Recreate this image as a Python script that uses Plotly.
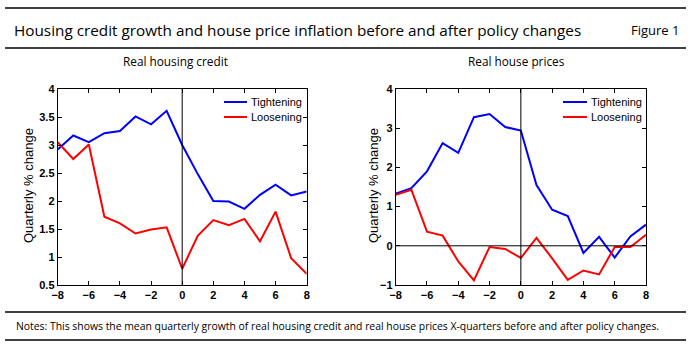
import plotly.graph_objects as go

W, H = 691, 349
quarters = list(range(-8, 9))
credit_tight = [2.92, 3.17, 3.05, 3.21, 3.25, 3.51, 3.37, 3.61, 3.0, 2.48, 2.0, 1.99, 1.86, 2.11, 2.29, 2.1, 2.17]
credit_loose = [3.05, 2.75, 3.01, 1.72, 1.6, 1.42, 1.49, 1.53, 0.79, 1.38, 1.66, 1.57, 1.68, 1.28, 1.81, 0.98, 0.7]
price_tight = [1.33, 1.47, 1.9, 2.62, 2.37, 3.28, 3.36, 3.03, 2.94, 1.55, 0.92, 0.76, -0.18, 0.23, -0.3, 0.24, 0.54]
price_loose = [1.3, 1.43, 0.36, 0.26, -0.4, -0.88, -0.03, -0.08, -0.31, 0.2, -0.32, -0.87, -0.63, -0.73, -0.03, -0.03, 0.28]
credit_ticks = [0.5, 1, 1.5, 2, 2.5, 3, 3.5, 4]
credit_ticklabels = ["0.5", "1", "1.5", "2", "2.5", "3", "3.5", "4"]
price_ticks = [-1, 0, 1, 2, 3, 4]
x_ticks = [-8, -6, -4, -2, 0, 2, 4, 6, 8]

BLUE = "#0000ff"
RED = "#ff0000"

def px(x):
    return x / W

def py(y):
    return 1 - y / H

fig = go.Figure()
fig.add_trace(go.Scatter(x=quarters, y=credit_tight, mode="lines", line=dict(color=BLUE, width=2),
                         xaxis="x", yaxis="y", showlegend=False))
fig.add_trace(go.Scatter(x=quarters, y=credit_loose, mode="lines", line=dict(color=RED, width=2),
                         xaxis="x", yaxis="y", showlegend=False))
fig.add_trace(go.Scatter(x=quarters, y=price_tight, mode="lines", line=dict(color=BLUE, width=2),
                         xaxis="x2", yaxis="y2", showlegend=False))
fig.add_trace(go.Scatter(x=quarters, y=price_loose, mode="lines", line=dict(color=RED, width=2),
                         xaxis="x2", yaxis="y2", showlegend=False))

tickfont = dict(family="Liberation Sans, Arial", size=11, color="black", weight="bold")
axis_common = dict(showgrid=False, zeroline=False, showline=True, linecolor="black", linewidth=1,
                   mirror="allticks", ticks="inside", ticklen=4, tickcolor="black", tickfont=tickfont,
                   automargin=False)

ydom = [py(285), py(89)]
fig.update_layout(
    width=W, height=H, margin=dict(l=0, r=0, t=0, b=0, pad=0), autosize=False,
    plot_bgcolor="white", paper_bgcolor="white",
    xaxis=dict(domain=[px(57.7), px(306.7)], range=[-8, 8], tickvals=x_ticks, anchor="y", **axis_common),
    yaxis=dict(domain=ydom, range=[0.5, 4], tickvals=credit_ticks, ticktext=credit_ticklabels, anchor="x",
               **axis_common),
    xaxis2=dict(domain=[px(395.7), px(646)], range=[-8, 8], tickvals=x_ticks, anchor="y2", **axis_common),
    yaxis2=dict(domain=ydom, range=[-1, 4], tickvals=price_ticks, anchor="x2", **axis_common),
    showlegend=False,
)

shapes = []
# zero reference lines
shapes.append(dict(type="line", xref="x", yref="y", x0=0, x1=0, y0=0.5, y1=4, line=dict(color="black", width=1)))
shapes.append(dict(type="line", xref="x2", yref="y2", x0=0, x1=0, y0=-1, y1=4, line=dict(color="black", width=1)))
shapes.append(dict(type="line", xref="x2", yref="y2", x0=-8, x1=8, y0=0, y1=0, line=dict(color="black", width=1)))
# horizontal rules
for yy in [8, 48, 312, 340]:
    shapes.append(dict(type="line", xref="paper", yref="paper", x0=px(5), x1=px(686), y0=py(yy), y1=py(yy),
                       line=dict(color="black", width=1.5)))
# legend lines
for (x0, x1, y, c) in [(224, 247, 102, BLUE), (224, 247, 117, RED), (563, 587, 102, BLUE), (563, 587, 117, RED)]:
    shapes.append(dict(type="line", xref="paper", yref="paper", x0=px(x0), x1=px(x1), y0=py(y), y1=py(y),
                       line=dict(color=c, width=2)))
fig.update_layout(shapes=shapes)

def text(t, x, y, xanchor, size, family="Open Sans", angle=0):
    return dict(text=t, xref="paper", yref="paper", x=px(x), y=py(y), xanchor=xanchor, yanchor="middle",
                showarrow=False, textangle=angle, font=dict(family=family, size=size, color="black"))

ann = [
    text("Housing credit growth and house price inflation before and after policy changes", 12, 30, "left", 15.3),
    text("Figure 1", 681, 30, "right", 13),
    text("Real housing credit", 176, 61, "center", 11.8),
    text("Real house prices", 516, 61, "center", 11.8),
    text("Notes: This shows the mean quarterly growth of real housing credit and real house prices X-quarters before and after policy changes.",
         14, 326, "left", 10.4),
    text("Quarterly % change", 28, 186, "center", 13, "Liberation Sans, Arial", -90),
    text("Quarterly % change", 373, 186, "center", 13, "Liberation Sans, Arial", -90),
]
for (x, y, t) in [(249, 102, "Tightening"), (249, 117, "Loosening"), (589, 102, "Tightening"), (589, 117, "Loosening")]:
    ann.append(text(t, x, y, "left", 11, "Liberation Sans, Arial"))
fig.update_layout(annotations=ann)

fig.write_html("out.html")
